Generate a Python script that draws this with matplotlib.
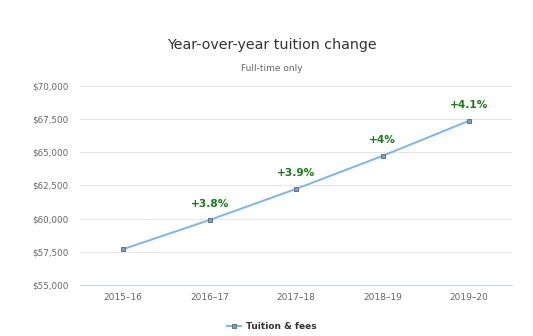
import matplotlib
matplotlib.use("Agg")
import matplotlib.pyplot as plt
from matplotlib.ticker import FuncFormatter, MultipleLocator

years = ["2015\u201316", "2016\u201317", "2017\u201318", "2018\u201319", "2019\u201320"]
tuition = [57700, 59900, 62240, 64730, 67380]
changes = [None, "+3.8%", "+3.9%", "+4%", "+4.1%"]

plt.rcParams['font.family'] = ['DejaVu Sans']
fig = plt.figure(figsize=(5.33, 3.36), dpi=100)
ax = fig.add_axes([0.150, 0.152, 0.811, 0.592])

x = list(range(len(years)))
ax.plot(x, tuition, color="#7cb5ec", lw=1.4, marker="s", markersize=3.2,
        markerfacecolor="#8a9bb3", markeredgecolor="#5f7391", markeredgewidth=0.7,
        zorder=3, label="Tuition & fees")

for xi, v, lab in zip(x, tuition, changes):
    if lab:
        ax.annotate(lab, (xi, v), xytext=(0, 8), textcoords="offset points",
                    ha="center", va="bottom", color="#1a7a1a", fontweight="bold", fontsize=7.6)

ax.set_xlim(-0.5, 4.5)
ax.set_ylim(55000, 70000)
ax.yaxis.set_major_locator(MultipleLocator(2500))
ax.yaxis.set_major_formatter(FuncFormatter(lambda v, p: f"${v:,.0f}"))
ax.set_xticks(x)
ax.set_xticklabels(years)
ax.grid(axis="y", color="#e6e6e6", lw=0.8)
ax.set_axisbelow(True)
for s in ["top", "right", "left"]:
    ax.spines[s].set_visible(False)
ax.spines["bottom"].set_color("#ccd6eb")
ax.tick_params(axis="y", length=0, labelsize=6.3, labelcolor="#666666", pad=8.5)
ax.tick_params(axis="x", length=0, labelsize=6.5, labelcolor="#666666", pad=6)

fig.text(0.51, 0.866, "Year-over-year tuition change", ha="center", va="center",
         fontsize=10.3, color="#333333")
fig.text(0.51, 0.795, "Full-time only", ha="center", va="center",
         fontsize=6.5, color="#666666")

leg = fig.legend(loc="center", bbox_to_anchor=(0.51, 0.028), frameon=False,
                 prop={"weight": "bold", "size": 6.5}, handlelength=1.6, handletextpad=0.5)
for t in leg.get_texts():
    t.set_color("#333333")

fig.savefig("out.png", dpi=100)
